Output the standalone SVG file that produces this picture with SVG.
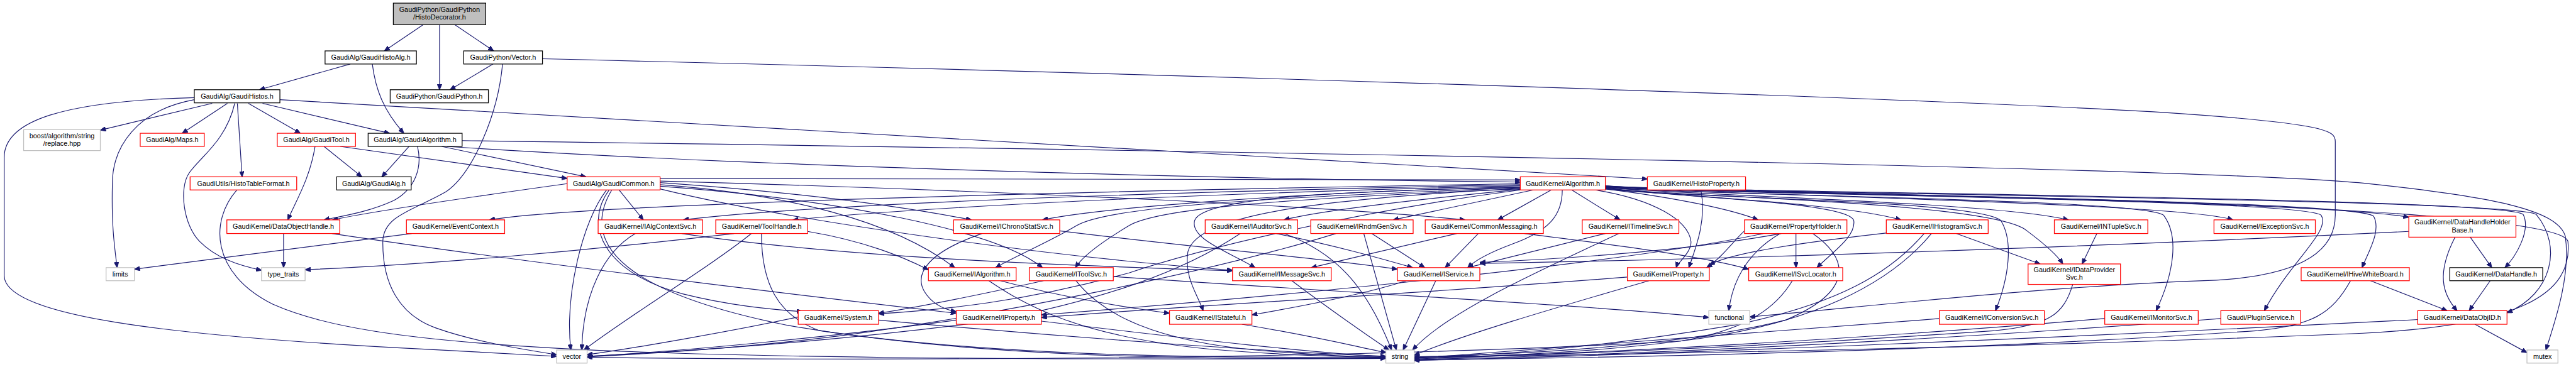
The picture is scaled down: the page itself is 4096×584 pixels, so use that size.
<svg xmlns="http://www.w3.org/2000/svg" width="4096" height="584" viewBox="0 0 4096 584">
<style>
rect{fill:#fff;stroke-width:1.5}
.r rect{stroke:#f00}
.b rect{stroke:#000}
.g rect{stroke:#bfbfbf}
.top rect{fill:#bfbfbf;stroke:#000}
text{font-family:"Liberation Sans",Arial,sans-serif;font-size:13px;text-anchor:middle;fill:#000}
#edges path{fill:none;stroke:#191970;stroke-width:1.4;marker-end:url(#a)}
</style>
<defs>
<marker id="a" markerWidth="11" markerHeight="9" refX="10.5" refY="4.5" orient="auto" markerUnits="userSpaceOnUse"><path d="M0,0 L11,4.5 L0,9 z" fill="#191970" stroke="#191970" stroke-width="1"/></marker>
</defs>
<rect x="0" y="0" width="4096" height="584" style="fill:#fff;stroke:none"/>
<g transform="scale(0.835)">
<g id="edges">
<path d="M806,47 L732,97"/>
<path d="M837,47 L837,171"/>
<path d="M866,47 L940,97"/>
<path d="M939,122 L857,171"/>
<path d="M957,122 C948,220 900,330 850,365 C790,400 730,410 729,460 C728,540 760,600 830,625 C900,650 990,665 1060,676"/>
<path d="M1033,112 C2000,135 3500,180 4100,213 C4440,235 4447,250 4447,270 L4447,410 C4447,480 4380,525 4220,534 C3900,545 3600,580 3332,604"/>
<path d="M667,122 L494,171"/>
<path d="M709,122 C715,170 730,210 769,254"/>
<path d="M370,186 C120,193 8,230 8,300 L8,525 C8,600 300,640 820,666 C920,671 1000,676 1060,679"/>
<path d="M370,190 C260,210 214,280 214,350 C212,430 218,470 223,510"/>
<path d="M404,197 L191,248"/>
<path d="M433,197 L347,254"/>
<path d="M447,197 C430,270 380,300 360,330 C340,360 350,430 380,460 C410,490 450,505 498,515"/>
<path d="M452,197 L461,337"/>
<path d="M473,197 L572,254"/>
<path d="M500,197 L742,254"/>
<path d="M533,190 L3137,341"/>
<path d="M600,279 C590,340 565,380 548,419"/>
<path d="M617,279 L689,337"/>
<path d="M648,279 L1080,340"/>
<path d="M779,279 L727,337"/>
<path d="M841,279 L1116,337"/>
<path d="M851,279 C1300,310 2200,340 2895,347"/>
<path d="M795,279 C805,320 790,360 750,382 C700,405 650,412 617,419"/>
<path d="M880,268 C2500,290 4200,320 4500,349 C4750,375 4870,400 4885,450 C4895,520 4870,600 4848,667"/>
<path d="M451,362 C400,420 400,520 520,580 C700,660 1100,690 2639,683"/>
<path d="M1155,362 C1110,420 1075,560 1087,667"/>
<path d="M1160,362 C1110,430 1150,520 1300,560 C1400,585 1480,590 1528,594"/>
<path d="M1179,362 L1225,419"/>
<path d="M1080,350 C900,375 700,405 633,419"/>
<path d="M1257,352 C1500,370 1700,420 1818,510"/>
<path d="M1257,355 C1600,380 1900,440 1985,510"/>
<path d="M1257,348 C1500,365 1700,390 1850,419"/>
<path d="M1257,360 C1500,420 2000,490 2347,515"/>
<path d="M1165,362 C1100,470 1200,560 1500,620 C1900,690 2400,684 2639,682"/>
<path d="M1257,345 C1800,360 2500,390 2790,419"/>
<path d="M1257,340 L2895,343"/>
<path d="M2895,350 C2000,365 1100,390 932,419"/>
<path d="M2895,352 C2000,370 1500,395 1301,419"/>
<path d="M2895,354 C2200,370 1700,400 1510,419"/>
<path d="M2895,356 C2500,365 2100,395 1985,419"/>
<path d="M2895,358 C2300,380 2100,400 2050,430 C2000,460 1930,490 1896,510"/>
<path d="M2895,360 C2400,380 2200,400 2150,430 C2100,460 2060,490 2048,510"/>
<path d="M2895,362 C2600,400 2300,470 2150,520 C1950,575 1800,590 1673,598"/>
<path d="M2895,359 C2500,380 2280,410 2262,480 C2255,530 2280,560 2291,592"/>
<path d="M2895,357 C2500,365 2290,380 2275,420 C2265,455 2340,480 2390,510"/>
<path d="M2895,361 C2700,380 2520,400 2445,419"/>
<path d="M2920,362 L2653,419"/>
<path d="M2954,362 L2852,419"/>
<path d="M2993,362 L3085,419"/>
<path d="M2975,362 C2975,410 2950,440 2880,465 C2840,480 2810,495 2795,510"/>
<path d="M3038,362 C3150,380 3215,420 3220,460 C3222,480 3195,500 3192,510"/>
<path d="M3239,362 C3250,420 3230,470 3216,510"/>
<path d="M3057,360 C3200,378 3300,400 3348,419"/>
<path d="M3057,358 C3150,372 3500,385 3620,419"/>
<path d="M3057,357 C3200,372 3800,385 3939,419"/>
<path d="M3057,359 C3200,375 3800,385 3860,440 C3900,470 3920,490 3928,503"/>
<path d="M3057,360 C3200,378 3760,380 3810,420 C3835,460 3825,530 3800,592"/>
<path d="M3057,356 C3200,370 4150,385 4252,419"/>
<path d="M3057,355 C3200,368 4400,380 4587,414"/>
<path d="M3057,357 C3200,372 4080,378 4120,410 C4150,450 4140,520 4106,592"/>
<path d="M3057,356 C3200,370 4380,378 4420,410 C4440,440 4360,500 4312,592"/>
<path d="M3057,355 C3200,369 4480,378 4520,412 C4535,440 4510,480 4498,510"/>
<path d="M3057,354 C3200,367 4780,375 4805,409 C4820,440 4790,490 4770,510"/>
<path d="M3057,354 C3200,368 4800,378 4830,409 C4880,470 4860,560 4774,596"/>
<path d="M3057,355 C3200,368 4870,378 4890,460 C4900,560 4800,620 4500,635 C3900,660 3200,675 2693,680"/>
<path d="M3057,359 C3200,376 3520,385 3530,420 C3535,450 3490,480 3460,510"/>
<path d="M784,445 L256,513"/>
<path d="M1210,445 C1150,480 1110,560 1108,667"/>
<path d="M1298,445 C1600,490 2000,505 2347,516"/>
<path d="M1431,445 C1350,510 1200,600 1112,667"/>
<path d="M1398,445 C1100,480 800,505 581,514"/>
<path d="M1450,445 C1450,540 1480,600 1560,630 C1900,680 2300,682 2639,681"/>
<path d="M1538,441 C1650,460 1720,490 1768,514"/>
<path d="M2018,440 C2300,475 2500,490 2661,513"/>
<path d="M1870,445 C1770,480 1740,520 1760,555 C1775,580 1800,590 1821,594"/>
<path d="M1905,535 C2000,560 2100,580 2227,597"/>
<path d="M1883,535 C1950,580 2050,640 2300,665 C2450,678 2560,680 2639,681"/>
<path d="M1987,535 C1850,565 1750,585 1673,597"/>
<path d="M2049,535 C2100,600 2200,650 2400,668 C2500,676 2580,680 2639,681"/>
<path d="M2120,527 C2600,560 3000,580 3254,605"/>
<path d="M2362,445 C2250,520 2100,570 1900,610 C1600,650 1300,670 1118,679"/>
<path d="M2430,445 C2550,470 2620,490 2690,510"/>
<path d="M2445,445 C2540,480 2600,540 2650,667"/>
<path d="M2460,535 C2520,580 2590,630 2645,667"/>
<path d="M2612,445 L2713,510"/>
<path d="M2597,445 L2659,667"/>
<path d="M2544,445 C2300,520 1900,600 1600,640 C1400,665 1200,676 1118,680"/>
<path d="M2815,445 L2752,510"/>
<path d="M2774,445 L2497,510"/>
<path d="M2903,445 C3100,470 3250,490 3330,513"/>
<path d="M3057,445 L2795,510"/>
<path d="M3083,445 C2900,530 2750,600 2690,667"/>
<path d="M3140,535 C2950,590 2780,640 2693,677"/>
<path d="M3099,528 C2700,560 2300,580 1983,605"/>
<path d="M2678,535 C2600,560 2500,580 2384,600"/>
<path d="M2734,535 L2672,667"/>
<path d="M3322,440 C3300,460 3280,490 3250,510"/>
<path d="M3358,445 C3100,500 2500,560 1983,600"/>
<path d="M3420,445 L3420,510"/>
<path d="M3390,445 C3330,480 3300,530 3292,592"/>
<path d="M3452,445 C3530,500 3520,560 3400,610 C3200,660 2900,675 2693,680"/>
<path d="M3392,445 C3200,480 2950,495 2818,500"/>
<path d="M3725,445 L3885,503"/>
<path d="M3664,445 C3600,520 3500,580 3300,620 C3000,670 2800,679 2693,681"/>
<path d="M3678,445 C3600,540 3450,620 3200,650 C2500,690 1500,686 1118,681"/>
<path d="M3602,443 C3450,460 3300,480 3255,505"/>
<path d="M3993,445 L3965,503"/>
<path d="M3413,535 C3380,590 3320,630 3200,650 C3000,675 2800,680 2693,681"/>
<path d="M3947,542 C3930,600 3900,620 3800,630 C3300,665 2900,678 2693,682"/>
<path d="M3693,607 C3300,640 2900,670 2693,683"/>
<path d="M4008,607 C3500,650 3000,675 2693,684"/>
<path d="M4229,607 C3800,640 3200,675 2693,685"/>
<path d="M4514,535 L4660,592"/>
<path d="M4476,535 C4440,600 4400,620 4300,630 C3800,665 3200,680 2693,686"/>
<path d="M4742,535 L4702,592"/>
<path d="M4704,452 L4745,510"/>
<path d="M4675,452 C4640,520 4650,560 4679,592"/>
<path d="M4587,441 C4200,460 3500,490 2818,502"/>
<path d="M4713,618 L4812,672"/>
<path d="M4604,609 C4000,640 3200,675 2693,687"/>
<path d="M540,445 L540,510"/>
<path d="M632,445 C1000,500 1500,560 1821,597"/>
<path d="M1520,604 C1400,630 1200,665 1118,676"/>
<path d="M1673,610 C2000,640 2400,670 2639,679"/>
<path d="M1983,612 C2300,650 2500,672 2639,680"/>
<path d="M1821,610 C1600,640 1300,670 1118,679"/>
<path d="M2365,618 C2500,640 2580,660 2640,672"/>
</g>
<g id="n0" class="top"><rect x="749" y="6" width="176" height="41"/><text x="837" y="23">GaudiPython/GaudiPython</text><text x="837" y="37">/HistoDecorator.h</text></g>
<g id="n1" class="b"><rect x="619" y="97" width="174" height="25"/><text x="706" y="114">GaudiAlg/GaudiHistoAlg.h</text></g>
<g id="n2" class="b"><rect x="883" y="97" width="150" height="25"/><text x="958" y="114">GaudiPython/Vector.h</text></g>
<g id="n3" class="b"><rect x="370" y="171" width="163" height="25"/><text x="451.5" y="188">GaudiAlg/GaudiHistos.h</text></g>
<g id="n4" class="b"><rect x="743" y="171" width="187" height="25"/><text x="836.5" y="188">GaudiPython/GaudiPython.h</text></g>
<g id="n5" class="g"><rect x="45" y="247" width="146" height="40"/><text x="118" y="263">boost/algorithm/string</text><text x="118" y="277.5">/replace.hpp</text></g>
<g id="n6" class="r"><rect x="267" y="254" width="122" height="25"/><text x="328" y="271">GaudiAlg/Maps.h</text></g>
<g id="n7" class="r"><rect x="528" y="254" width="149" height="25"/><text x="602.5" y="271">GaudiAlg/GaudiTool.h</text></g>
<g id="n8" class="b"><rect x="701" y="254" width="179" height="25"/><text x="790.5" y="271">GaudiAlg/GaudiAlgorithm.h</text></g>
<g id="n9" class="r"><rect x="362" y="337" width="203" height="25"/><text x="463.5" y="354">GaudiUtils/HistoTableFormat.h</text></g>
<g id="n10" class="b"><rect x="641" y="337" width="142" height="25"/><text x="712" y="354">GaudiAlg/GaudiAlg.h</text></g>
<g id="n11" class="r"><rect x="1080" y="337" width="177" height="25"/><text x="1168.5" y="354">GaudiAlg/GaudiCommon.h</text></g>
<g id="n12" class="r"><rect x="2895" y="337" width="162" height="25"/><text x="2976" y="354">GaudiKernel/Algorithm.h</text></g>
<g id="n13" class="r"><rect x="3137" y="337" width="187" height="25"/><text x="3230.5" y="354">GaudiKernel/HistoProperty.h</text></g>
<g id="n14" class="r"><rect x="432" y="419" width="215" height="26"/><text x="539.5" y="436.5">GaudiKernel/DataObjectHandle.h</text></g>
<g id="n15" class="r"><rect x="774" y="419" width="187" height="26"/><text x="867.5" y="436.5">GaudiKernel/EventContext.h</text></g>
<g id="n16" class="r"><rect x="1139" y="419" width="199" height="26"/><text x="1238.5" y="436.5">GaudiKernel/IAlgContextSvc.h</text></g>
<g id="n17" class="r"><rect x="1363" y="419" width="175" height="26"/><text x="1450.5" y="436.5">GaudiKernel/ToolHandle.h</text></g>
<g id="n18" class="r"><rect x="1816" y="419" width="202" height="26"/><text x="1917" y="436.5">GaudiKernel/IChronoStatSvc.h</text></g>
<g id="n19" class="r"><rect x="2295" y="419" width="176" height="26"/><text x="2383" y="436.5">GaudiKernel/IAuditorSvc.h</text></g>
<g id="n20" class="r"><rect x="2496" y="419" width="195" height="26"/><text x="2593.5" y="436.5">GaudiKernel/IRndmGenSvc.h</text></g>
<g id="n21" class="r"><rect x="2714" y="419" width="225" height="26"/><text x="2826.5" y="436.5">GaudiKernel/CommonMessaging.h</text></g>
<g id="n22" class="r"><rect x="3013" y="419" width="184" height="26"/><text x="3105" y="436.5">GaudiKernel/ITimelineSvc.h</text></g>
<g id="n23" class="r"><rect x="3322" y="419" width="195" height="26"/><text x="3419.5" y="436.5">GaudiKernel/PropertyHolder.h</text></g>
<g id="n24" class="r"><rect x="3592" y="419" width="194" height="26"/><text x="3689" y="436.5">GaudiKernel/IHistogramSvc.h</text></g>
<g id="n25" class="r"><rect x="3912" y="419" width="178" height="26"/><text x="4001" y="436.5">GaudiKernel/INTupleSvc.h</text></g>
<g id="n26" class="r"><rect x="4216" y="419" width="193" height="26"/><text x="4312.5" y="436.5">GaudiKernel/IExceptionSvc.h</text></g>
<g id="n27" class="r"><rect x="4587" y="412" width="204" height="40"/><text x="4689" y="427.5">GaudiKernel/DataHandleHolder</text><text x="4689" y="443">Base.h</text></g>
<g id="n28" class="g"><rect x="202" y="510" width="54" height="25"/><text x="229" y="527">limits</text></g>
<g id="n29" class="g"><rect x="498" y="510" width="83" height="25"/><text x="539.5" y="527">type_traits</text></g>
<g id="n30" class="r"><rect x="1768" y="510" width="167" height="25"/><text x="1851.5" y="527">GaudiKernel/IAlgorithm.h</text></g>
<g id="n31" class="r"><rect x="1960" y="510" width="160" height="25"/><text x="2040" y="527">GaudiKernel/IToolSvc.h</text></g>
<g id="n32" class="r"><rect x="2347" y="510" width="188" height="25"/><text x="2441" y="527">GaudiKernel/IMessageSvc.h</text></g>
<g id="n33" class="r"><rect x="2661" y="510" width="157" height="25"/><text x="2739.5" y="527">GaudiKernel/IService.h</text></g>
<g id="n34" class="r"><rect x="3099" y="510" width="156" height="25"/><text x="3177" y="527">GaudiKernel/Property.h</text></g>
<g id="n35" class="r"><rect x="3330" y="510" width="179" height="25"/><text x="3419.5" y="527">GaudiKernel/ISvcLocator.h</text></g>
<g id="n36" class="r"><rect x="3862" y="503" width="176" height="39"/><text x="3950" y="519">GaudiKernel/IDataProvider</text><text x="3950" y="533">Svc.h</text></g>
<g id="n37" class="r"><rect x="4382" y="510" width="206" height="25"/><text x="4485" y="527">GaudiKernel/IHiveWhiteBoard.h</text></g>
<g id="n38" class="b"><rect x="4665" y="510" width="177" height="25"/><text x="4753.5" y="527">GaudiKernel/DataHandle.h</text></g>
<g id="n39" class="r"><rect x="1520" y="592" width="153" height="26"/><text x="1596.5" y="609.5">GaudiKernel/System.h</text></g>
<g id="n40" class="r"><rect x="1821" y="592" width="162" height="26"/><text x="1902" y="609.5">GaudiKernel/IProperty.h</text></g>
<g id="n41" class="r"><rect x="2227" y="592" width="157" height="26"/><text x="2305.5" y="609.5">GaudiKernel/IStateful.h</text></g>
<g id="n42" class="g"><rect x="3254" y="592" width="78" height="26"/><text x="3293" y="609.5">functional</text></g>
<g id="n43" class="r"><rect x="3693" y="592" width="200" height="26"/><text x="3793" y="609.5">GaudiKernel/IConversionSvc.h</text></g>
<g id="n44" class="r"><rect x="4008" y="592" width="178" height="26"/><text x="4097" y="609.5">GaudiKernel/IMonitorSvc.h</text></g>
<g id="n45" class="r"><rect x="4229" y="592" width="152" height="26"/><text x="4305" y="609.5">Gaudi/PluginService.h</text></g>
<g id="n46" class="r"><rect x="4604" y="592" width="170" height="26"/><text x="4689" y="609.5">GaudiKernel/DataObjID.h</text></g>
<g id="n47" class="g"><rect x="1060" y="667" width="58" height="25"/><text x="1089" y="684">vector</text></g>
<g id="n48" class="g"><rect x="2639" y="667" width="54" height="25"/><text x="2666" y="684">string</text></g>
<g id="n49" class="g"><rect x="4812" y="667" width="59" height="25"/><text x="4841.5" y="684">mutex</text></g>
</g>
</svg>
